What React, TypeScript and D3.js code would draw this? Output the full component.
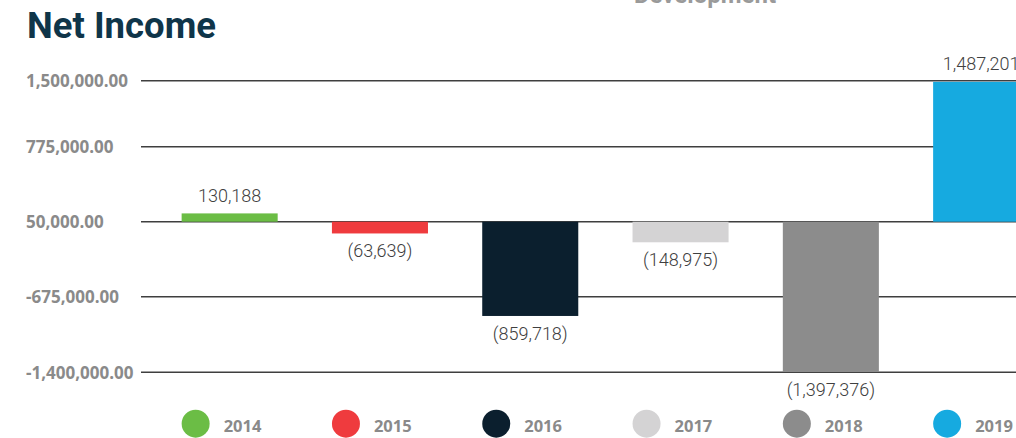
import React from "react";
import * as d3 from "d3";

const years = ["2014", "2015", "2016", "2017", "2018", "2019"];
const netIncome = [130188, -63639, -859718, -148975, -1397376, 1487201];
const colors = ["#6bbd45", "#ef3b3e", "#0b1f2e", "#d4d3d4", "#8c8c8c", "#16aae0"];
const tickValues = [1500000, 775000, 50000, -675000, -1400000];
const tickPixels = [80.7, 146.7, 221.7, 296.7, 372.3];
const baselineValue = 50000;

const W = 1016;
const H = 438;

export default function App() {
  const y = d3.scaleLinear().domain(tickValues).range(tickPixels);
  const x = d3
    .scaleBand<string>()
    .domain(years)
    .range([154.5, 154.5 + 6 * 150.3])
    .paddingInner(0.361)
    .paddingOuter(0.1805);

  const fmtTick = (t: number) => d3.format(",.2f")(t).replace("\u2212", "-");
  const fmtVal = (v: number) => (v < 0 ? `(${d3.format(",")(-v)})` : d3.format(",")(v));
  const y0 = y(baselineValue);

  return (
    <svg
      width={W}
      height={H}
      style={{ position: "absolute", left: 0, top: 0, background: "#fff" }}
      fontFamily="Roboto, sans-serif"
    >
      <text x={705} y={2.5} textAnchor="middle" fontSize={24} fontWeight={700} fill="#9a9a9a">
        Development
      </text>
      <text x={27} y={38.3} fontSize={36.5} fontWeight={700} fill="#0f3549">
        Net Income
      </text>

      {tickValues.map((t) => (
        <g key={t}>
          <line x1={141} x2={W} y1={y(t)} y2={y(t)} stroke="#3f3f3f" strokeWidth={1.4} />
          <text
            x={26}
            y={y(t) + 6.6}
            fontSize={17}
            fontWeight={700}
            fill="#8a8a8a"
            fontFamily="'Open Sans', sans-serif"
          >
            {fmtTick(t)}
          </text>
        </g>
      ))}

      {years.map((yr, i) => {
        const v = netIncome[i];
        const yv = y(v);
        const top = Math.min(yv, y0);
        const h = Math.abs(yv - y0);
        const bx = x(yr)!;
        const cx = bx + x.bandwidth() / 2;
        return (
          <g key={yr}>
            <rect x={bx} y={top} width={x.bandwidth()} height={h} fill={colors[i]} />
            <text
              x={cx}
              y={v >= 0 ? yv - 11.5 : yv + 24}
              textAnchor="middle"
              fontSize={18}
              fontWeight={300}
              fill="#404040"
            >
              {fmtVal(v)}
            </text>
          </g>
        );
      })}

      {years.map((yr, i) => {
        const cx = x(yr)! + x.bandwidth() / 2 - 34;
        return (
          <g key={"lg" + yr}>
            <circle cx={cx} cy={423.7} r={14} fill={colors[i]} />
            <text
              x={cx + 28}
              y={431.7}
              fontSize={16.5}
              fontWeight={700}
              fill="#8a8a8a"
              fontFamily="'Open Sans', sans-serif"
            >
              {yr}
            </text>
          </g>
        );
      })}
    </svg>
  );
}
